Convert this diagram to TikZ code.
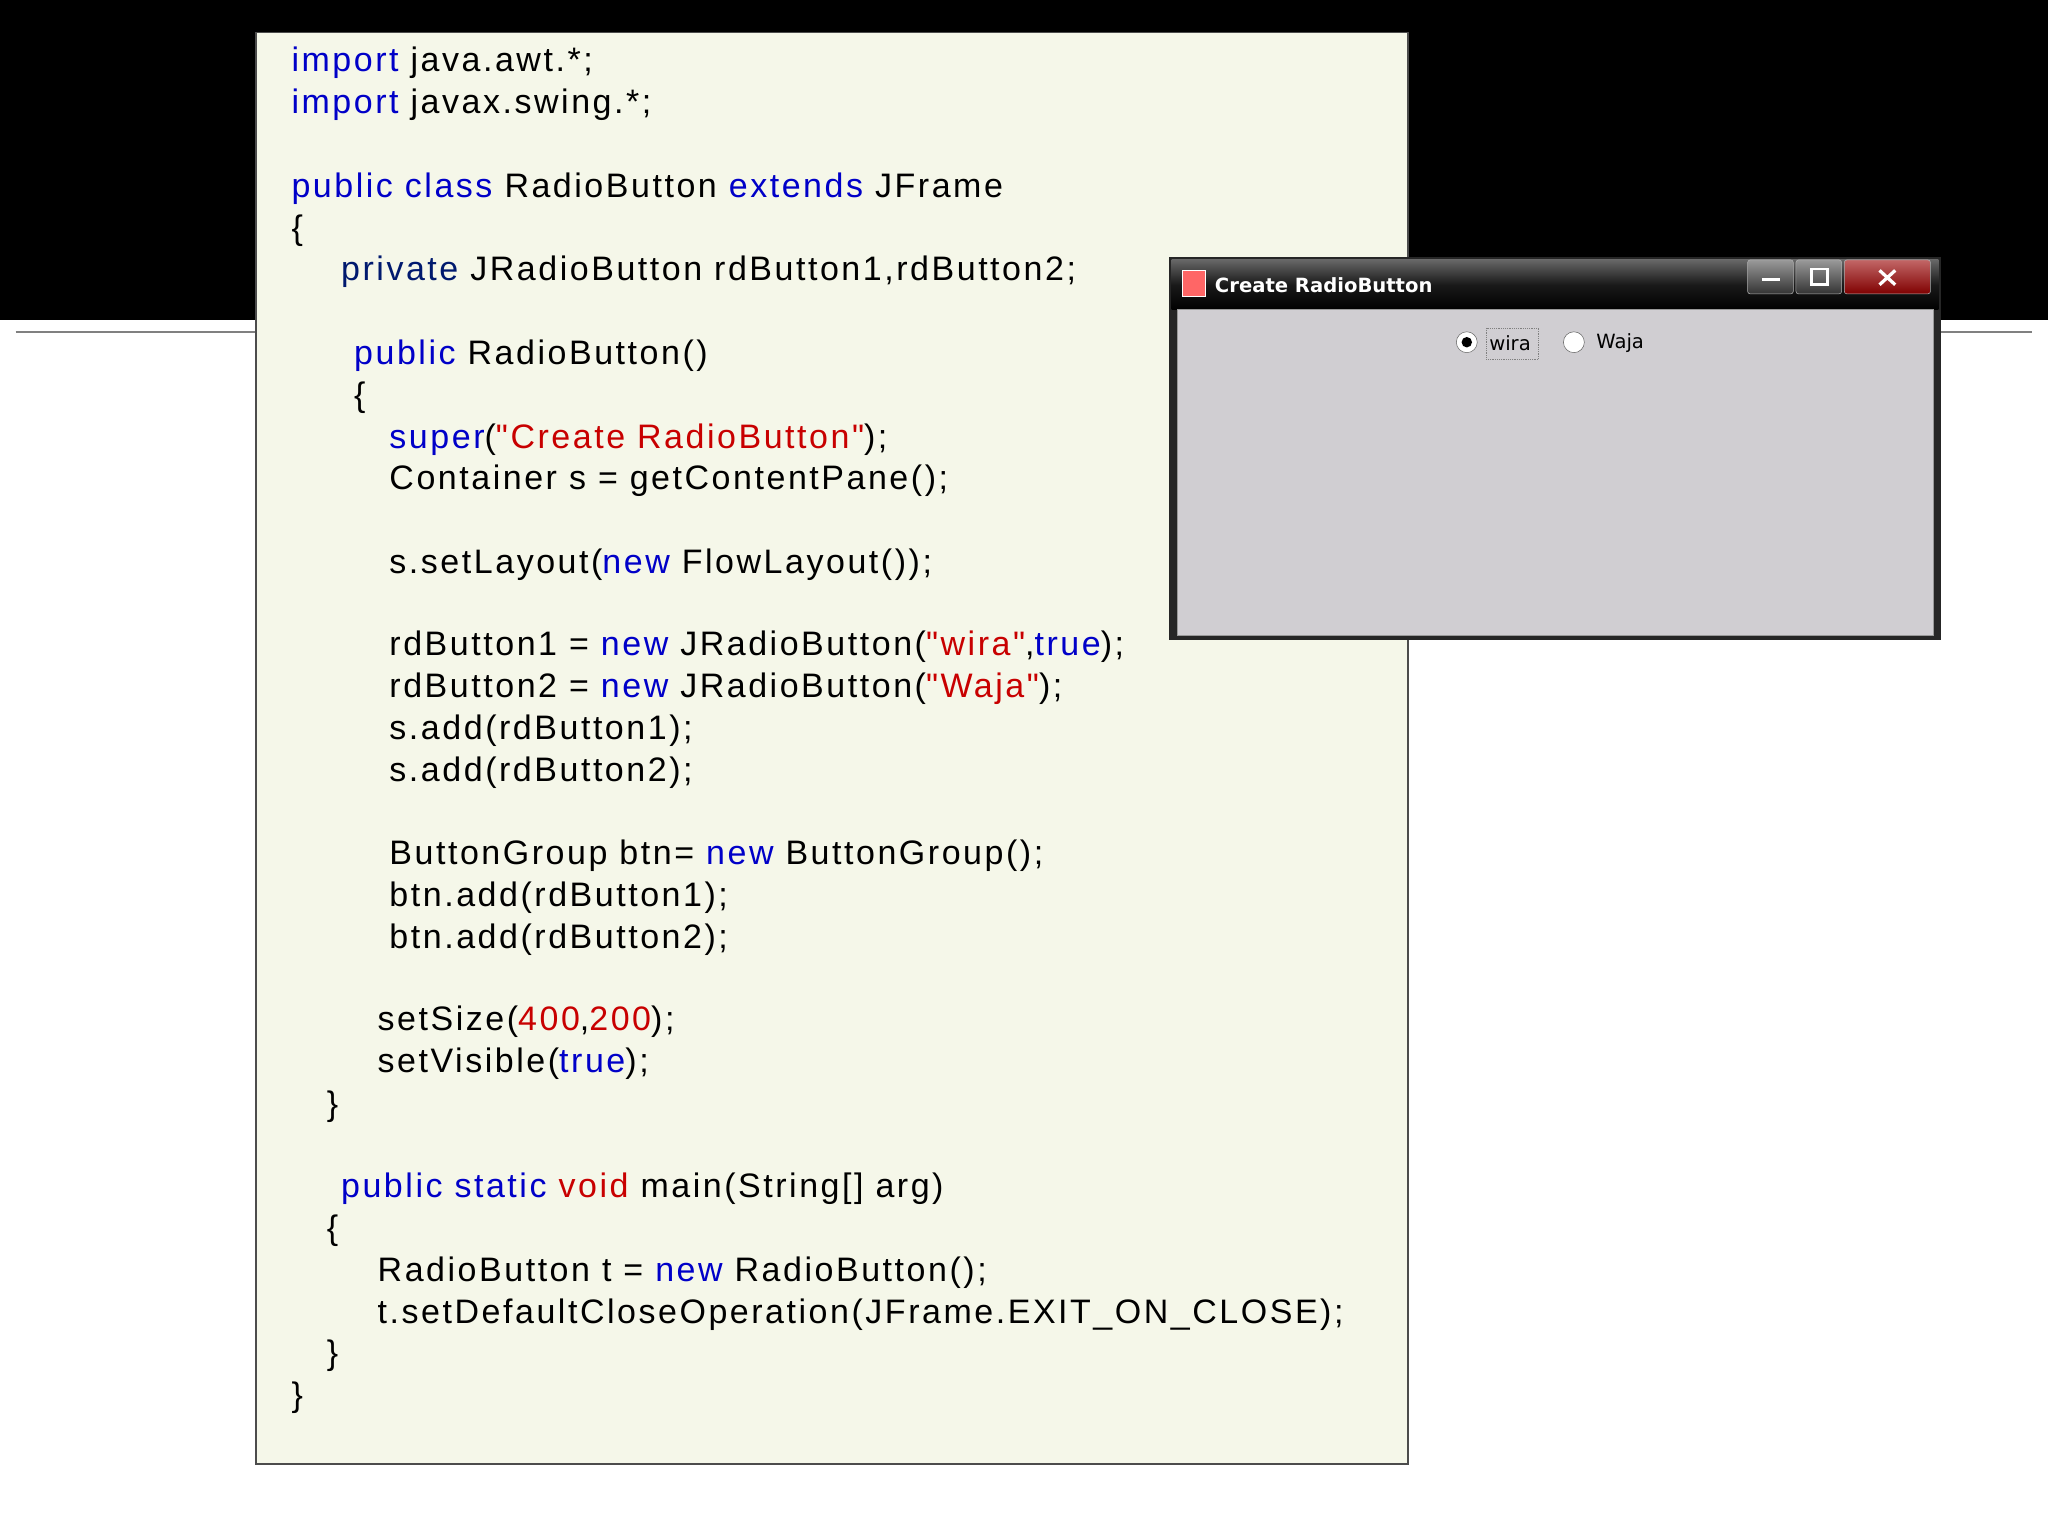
\documentclass[tikz,border=0pt]{standalone}
\usepackage{fontspec}
\setmainfont{Liberation Sans}
\newfontfamily\codefont[LetterSpace=7.5]{Liberation Sans}
\newfontfamily\winfont{DejaVu Sans}
\begin{document}
\definecolor{kw}{RGB}{0,0,200}
\definecolor{kwd}{RGB}{0,25,110}
\definecolor{str}{RGB}{200,0,0}
\definecolor{panel}{RGB}{245,247,233}
\definecolor{wingray}{RGB}{208,206,210}
\begin{tikzpicture}[x=1pt,y=-1pt,
  code/.style={anchor=base west,inner sep=0pt,font=\codefont\fontsize{26}{30}\selectfont},
  wtxt/.style={anchor=west,inner sep=0pt,font=\winfont\fontsize{15}{17}\selectfont}]
\useasboundingbox (0,0) rectangle (1568,1176);
\fill[white] (0,0) rectangle (1568,1176);
\fill[black] (0,0) rectangle (1568,245);
\draw[gray,line width=1.2] (12,254) -- (1556,254);
\draw[fill=panel,draw=black!70,line width=1.2] (196,25) rectangle (1078,1121);
\newcommand{\myK}[1]{\textcolor{kw}{#1}}
\newcommand{\myS}[1]{\textcolor{str}{#1}}
\newcommand{\myQ}{\char34\relax}
\node[code] (l1) at (223,55) {\myK{import} java.awt.*;};
\node[code] (l2) at (223,87) {\myK{import} javax.swing.*;};
\node[code] (l3) at (223,151) {\myK{public class} RadioButton \myK{extends} JFrame};
\node[code] (l4) at (223,183) {\{};
\node[code] (l5) at (261,215) {\textcolor{kwd}{private} JRadioButton rdButton1,rdButton2;};
\node[code] (l6) at (271,279) {\myK{public} RadioButton()};
\node[code] (l7) at (271,311) {\{};
\node[code] (l8) at (298,343) {\myK{super}(\myS{\myQ Create RadioButton\myQ});};
\node[code] (l9) at (298,375) {Container s = getContentPane();};
\node[code] (l10) at (298,439) {s.setLayout(\myK{new} FlowLayout());};
\node[code] (l11) at (298,502) {rdButton1 = \myK{new} JRadioButton(\myS{\myQ wira\myQ},\myK{true});};
\node[code] (l12) at (298,534) {rdButton2 = \myK{new} JRadioButton(\myS{\myQ Waja\myQ});};
\node[code] (l13) at (298,566) {s.add(rdButton1);};
\node[code] (l14) at (298,598) {s.add(rdButton2);};
\node[code] (l15) at (298,662) {ButtonGroup btn= \myK{new} ButtonGroup();};
\node[code] (l16) at (298,694) {btn.add(rdButton1);};
\node[code] (l17) at (298,726) {btn.add(rdButton2);};
\node[code] (l18) at (289,789) {setSize(\myS{400},\myS{200});};
\node[code] (l19) at (289,821) {setVisible(\myK{true});};
\node[code] (l20) at (250,854) {\}};
\node[code] (l21) at (261,917) {\myK{public static} \myS{void} main(String[] arg)};
\node[code] (l22) at (250,949) {\{};
\node[code] (l23) at (289,981) {RadioButton t = \myK{new} RadioButton();};
\node[code] (l24) at (289,1013) {t.setDefaultCloseOperation(JFrame.EXIT\_ON\_CLOSE);};
\node[code] (l25) at (250,1045) {\}};
\node[code] (l26) at (223,1077) {\}};
% window
\fill[black!85] (895,197) rectangle (1486,490);
\shade[top color=black!60,bottom color=black,middle color=black!90] (897,199) rectangle (1484,237);
\fill[wingray] (901,237) rectangle (1480,486);
\draw[black!40] (901,237) rectangle (1480,486);
\fill[red!60!white] (905,207) rectangle (923,227);
\draw[white] (905,207) rectangle (923,227);
\node[wtxt,text=white,font=\winfont\bfseries\fontsize{15}{17}\selectfont] (title) at (930,218) {Create RadioButton};
\foreach \a/\b in {1338/1373,1375/1410}{
  \shade[draw=white!70!black,rounded corners=2,top color=black!40,bottom color=black!80] (\a,199) rectangle (\b,225);}
\shade[draw=white!70!black,rounded corners=2,top color=red!60!black!60,bottom color=red!50!black] (1412,199) rectangle (1478,225);
\draw[white,line width=2.5] (1349,214) -- (1363,214);
\draw[white,line width=2] (1387,206) rectangle (1399,218);
\draw[white,line width=2.5] (1439,207) -- (1451,218) (1451,207) -- (1439,218);
\draw[fill=white,draw=black!60] (1123,262) circle (8);
\fill[black] (1123,262) circle (4);
\node[wtxt] (wira) at (1140,263) {wira};
\draw[black!50,densely dotted] (1138,251) rectangle (1178,275);
\draw[fill=white,draw=black!60] (1205,262) circle (8);
\node[wtxt] (waja) at (1222,263) {Waja};
\end{tikzpicture}
\end{document}
